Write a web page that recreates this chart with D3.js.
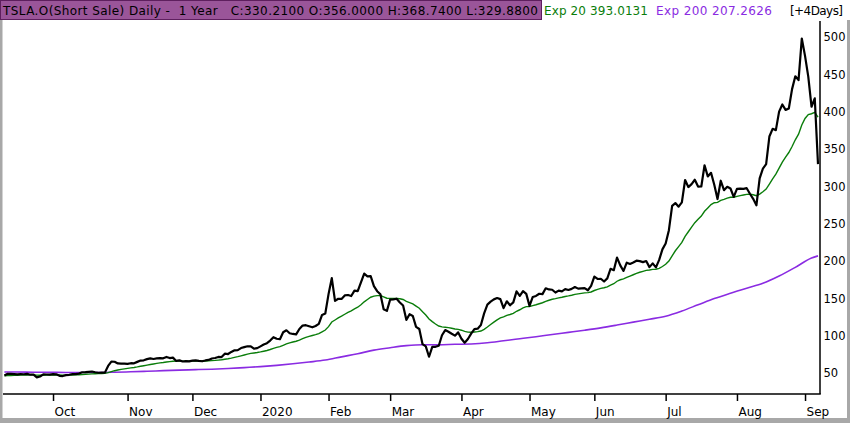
<!DOCTYPE html>
<html>
<head>
<meta charset="utf-8">
<script src="https://cdn.jsdelivr.net/npm/d3@7"></script>
<style>
  body { margin: 0; background: #fff; }
  svg text { font-family: "DejaVu Sans", Verdana, sans-serif; white-space: pre; }
</style>
</head>
<body>
<svg id="chart" width="850" height="423"></svg>
<script>
// daily closes, 10 Sep 2019 .. 8 Sep 2020 (split adjusted)
var closes = [
  47.1, 49.4, 49.2, 49.0, 48.6, 49.0, 48.7, 49.3, 48.1, 48.2, 44.6, 45.7, 48.5, 48.4, 48.2,
  48.9, 48.6, 46.6, 46.3, 47.5, 48.0, 48.9, 48.9, 49.6, 51.4, 51.6, 52.0, 52.4, 51.4, 50.7, 51.1, 50.9, 59.9, 65.6, 65.5, 63.2, 63.0, 63.0,
  62.7, 63.5, 63.4, 65.3, 67.1, 67.4, 69.0, 70.0, 69.2, 69.9, 70.4, 70.0, 71.9, 70.4, 71.0, 66.6, 67.3, 65.8, 66.3, 66.0,
  67.0, 67.2, 66.6, 66.1, 67.2, 67.9, 69.8, 70.5, 71.9, 71.7, 76.3, 75.8, 78.6, 80.8, 81.1, 83.8, 85.1, 86.2, 86.1, 82.9, 83.7,
  86.1, 88.6, 90.3, 93.8, 98.4, 96.3, 95.6, 105.0, 107.6, 103.7, 102.7, 102.1, 109.4, 113.9, 114.4, 113.0, 111.6, 113.4, 116.2, 128.2, 130.1,
  156.0, 177.4, 146.9, 149.8, 149.6, 154.3, 154.9, 153.5, 160.8, 160.0, 171.7, 183.5, 179.9, 180.2, 166.8, 160.0, 155.8, 135.8, 133.6,
  148.7, 149.1, 149.9, 144.9, 140.7, 121.6, 129.1, 126.8, 112.1, 109.3, 89.0, 86.0, 72.2, 85.5, 85.5, 86.9, 101.0, 107.9, 105.6, 102.9, 100.4, 104.8,
  96.3, 90.9, 96.0, 103.2, 109.1, 109.8, 114.6, 130.2, 142.0, 146.0, 149.0, 150.8, 149.3, 137.3, 146.4, 141.1, 145.0, 159.8, 153.8, 160.1, 156.4,
  140.3, 152.2, 153.6, 156.5, 156.0, 163.9, 162.3, 161.9, 158.2, 160.7, 159.8, 162.7, 161.6, 163.1, 165.5, 163.4, 163.8, 164.0, 161.2, 167.0,
  179.6, 176.3, 176.6, 172.9, 177.1, 190.0, 188.1, 205.0, 194.6, 187.1, 198.2, 196.4, 198.4, 200.8, 200.2, 198.9, 200.4, 192.2, 197.2, 191.9, 201.9, 216.0,
  223.9, 241.7, 274.3, 278.0, 273.2, 278.9, 308.9, 299.4, 303.4, 309.2, 300.1, 300.2, 328.6, 313.7, 318.5, 302.6, 283.4, 307.9, 295.3, 299.8, 297.5, 286.2,
  297.0, 297.4, 297.0, 297.9, 290.5, 283.7, 274.9, 311.0, 324.2, 330.1, 367.1, 377.4, 375.7, 400.4, 410.0, 402.8, 404.7, 430.6, 447.8, 442.7, 498.3,
  475.1, 447.4, 407.0, 418.3, 330.2
];

// Exp 20, one value per day
var ema20 = [
  46.56, 46.83, 47.06, 47.24, 47.37, 47.53, 47.64, 47.80, 47.83, 47.86, 47.55, 47.38, 47.48, 47.57, 47.63,
  47.75, 47.83, 47.71, 47.58, 47.57, 47.61, 47.74, 47.85, 48.01, 48.33, 48.64, 48.96, 49.29, 49.49, 49.61, 49.75, 49.86, 50.82, 52.23, 53.49, 54.41, 55.23, 55.97,
  56.61, 57.27, 57.85, 58.56, 59.37, 60.14, 60.98, 61.84, 62.54, 63.24, 63.92, 64.50, 65.20, 65.70, 66.20, 66.24, 66.34, 66.29, 66.29, 66.26,
  66.33, 66.41, 66.43, 66.40, 66.48, 66.61, 66.91, 67.25, 67.70, 68.08, 68.86, 69.52, 70.39, 71.38, 72.30, 73.40, 74.51, 75.62, 76.62, 77.22, 77.84,
  78.63, 79.58, 80.60, 81.86, 83.43, 84.66, 85.70, 87.54, 89.45, 90.81, 91.94, 92.91, 94.48, 96.33, 98.05, 99.47, 100.63, 101.84, 103.21, 105.59, 107.92,
  112.5, 118.7, 121.4, 124.1, 126.5, 129.1, 131.6, 133.7, 136.3, 138.5, 141.7, 145.7, 148.9, 151.9, 153.3, 154.0, 154.2, 152.4, 150.6,
  150.4, 150.3, 150.3, 149.8, 148.9, 146.3, 144.7, 143.0, 140.0, 137.1, 132.5, 128.1, 122.8, 119.2, 116.0, 113.3, 112.1, 111.7, 111.1, 110.3, 109.4, 108.9,
  107.7, 106.1, 105.2, 105.0, 105.4, 105.8, 106.6, 108.9, 112.0, 115.3, 118.5, 121.6, 124.2, 125.5, 127.5, 128.8, 130.3, 133.1, 135.1, 137.5, 139.3,
  139.4, 140.6, 141.8, 143.2, 144.5, 146.3, 147.8, 149.2, 150.0, 151.0, 151.9, 152.9, 153.7, 154.6, 155.7, 156.4, 157.1, 157.7, 158.1, 158.9,
  160.9, 162.4, 163.7, 164.6, 165.8, 168.1, 170.0, 173.3, 175.3, 176.5, 178.5, 180.2, 182.0, 183.8, 185.3, 186.6, 187.9, 188.3, 189.2, 189.4, 190.6, 193.0,
  196.0, 200.3, 207.4, 214.1, 219.7, 225.3, 233.3, 239.6, 245.7, 251.7, 256.3, 260.5, 267.0, 271.4, 275.9, 278.4, 278.9, 281.7, 283.0, 284.6, 285.8, 285.8,
  286.9, 287.9, 288.8, 289.6, 289.7, 289.1, 287.8, 290.0, 293.2, 296.8, 303.5, 310.5, 316.7, 324.7, 332.8, 339.5, 345.7, 353.8, 362.7, 370.3, 382.5,
  391.3, 396.6, 397.6, 399.6, 393.0
];

// Exp 200, read every 5th day
var ema200Day = [0, 4, 9, 14, 19, 24, 29, 34, 39, 44, 49, 54, 59, 64, 69, 74, 79, 84, 89, 94,
  99, 104, 109, 114, 119, 124, 129, 134, 139, 144, 149, 154, 159, 164, 169, 174, 179, 184, 189, 194,
  199, 204, 209, 214, 219, 224, 229, 234, 239, 244, 249, 251];
var ema200 = [51.75, 51.65, 51.50, 51.28, 51.10, 51.02, 51.05, 51.42, 51.99, 52.69, 53.53, 54.31, 54.90, 55.52, 56.38, 57.62, 58.96, 60.64, 62.70, 65.04,
  67.72, 72.03, 76.16, 81.05, 84.26, 87.04, 88.32, 88.07, 88.83, 89.29, 90.84, 93.55, 96.27, 99.02, 102.0, 104.86, 107.74, 110.88, 114.58, 118.50,
  122.40, 126.49, 133.45, 141.78, 150.12, 157.28, 164.0, 170.48, 180.22, 191.88, 204.4, 207.26];

// first trading day of each month (index into closes)
var monthStart = [15, 38, 58, 79, 100, 119, 141, 162, 182, 204, 226, 247];
var monthLabels = ["Oct", "Nov", "Dec", "2020", "Feb", "Mar", "Apr", "May", "Jun", "Jul", "Aug", "Sep"];
var priceTicks = [50, 100, 150, 200, 250, 300, 350, 400, 450, 500];

var titleText = "TSLA.O(Short Sale) Daily -  1 Year   C:330.2100 O:356.0000 H:368.7400 L:329.8800";
var exp20Text = "Exp 20 393.0131";
var exp200Text = "Exp 200 207.2626";
var extraText = "[+4Days]";

var svg = d3.select("#chart");

var plotLeft = 3, plotRight = 820, plotTop = 21, plotBottom = 394;

var x = d3.scaleLinear()
	.domain([0, closes.length - 1])
	.range([4.4, 818]);

var y = d3.scaleLinear()
	.domain([50, 500])
	.range([373.3, 37.3]);

// frame
svg.append("rect")
	.attr("x", 0).attr("y", 0).attr("width", 850).attr("height", 423)
	.attr("fill", "#fff");
svg.append("rect")
	.attr("x", 0).attr("y", 20).attr("width", 2.5).attr("height", 403)
	.attr("fill", "#a8a8a8");
svg.append("rect")
	.attr("x", 0).attr("y", 418).attr("width", 850).attr("height", 5)
	.attr("fill", "#a8a8a8");
svg.append("rect")
	.attr("x", 847).attr("y", 20).attr("width", 3).attr("height", 403)
	.attr("fill", "#a8a8a8");

// header
svg.append("rect")
	.attr("x", 0.5).attr("y", 0.5).attr("width", 541).attr("height", 19)
	.attr("fill", "#9a5599")
	.attr("stroke", "#5e1f5e");

var head = svg.append("g").attr("font-size", 12);
head.append("text")
	.attr("x", 3).attr("y", 15)
	.attr("textLength", 535)
	.attr("fill", "#000")
	.text(titleText);
head.append("text")
	.attr("x", 544).attr("y", 15)
	.attr("textLength", 104)
	.attr("fill", "#0a7d0a")
	.text(exp20Text);
head.append("text")
	.attr("x", 656).attr("y", 15)
	.attr("textLength", 116)
	.attr("fill", "#8a2be2")
	.text(exp200Text);
head.append("text")
	.attr("x", 790).attr("y", 15)
	.attr("textLength", 53)
	.attr("fill", "#000")
	.text(extraText);

// lines
svg.append("clipPath").attr("id", "plotclip")
	.append("rect")
		.attr("x", plotLeft).attr("y", plotTop)
		.attr("width", plotRight - plotLeft).attr("height", plotBottom - plotTop);

var lines = svg.append("g").attr("clip-path", "url(#plotclip)");

var lineDay = d3.line()
	.x(function(d, i) { return x(i); })
	.y(function(d) { return y(d); });

lines.append("path")
	.datum(ema200)
	.attr("fill", "none")
	.attr("stroke", "#8a2be2")
	.attr("stroke-width", 1.6)
	.attr("d", d3.line()
		.curve(d3.curveMonotoneX)
		.x(function(d, i) { return x(ema200Day[i]); })
		.y(function(d) { return y(d); }));

lines.append("path")
	.datum(ema20)
	.attr("fill", "none")
	.attr("stroke", "#0a7d0a")
	.attr("stroke-width", 1.4)
	.attr("d", lineDay);

lines.append("path")
	.datum(closes)
	.attr("fill", "none")
	.attr("stroke", "#000")
	.attr("stroke-width", 2.2)
	.attr("stroke-linejoin", "round")
	.attr("d", lineDay);

// axes
var xAxis = svg.append("g")
	.attr("transform", "translate(0," + plotBottom + ")")
	.call(d3.axisBottom(x)
		.tickValues(monthStart)
		.tickFormat(function(d, i) { return monthLabels[i]; })
		.tickSize(7)
		.tickSizeOuter(0));
xAxis.select(".domain").remove();
xAxis.selectAll(".tick line").attr("stroke", "#000").attr("stroke-width", 1.5);
xAxis.selectAll(".tick text")
	.attr("font-family", "DejaVu Sans, Verdana, sans-serif")
	.attr("font-size", 12)
	.attr("fill", "#000")
	.attr("text-anchor", "start")
	.attr("x", 1)
	.attr("y", 13);

var yAxis = svg.append("g")
	.attr("transform", "translate(" + plotRight + ",0)")
	.call(d3.axisRight(y)
		.tickValues(priceTicks)
		.tickSize(0)
		.tickPadding(3.5));
yAxis.select(".domain").remove();
yAxis.selectAll(".tick text")
	.attr("font-family", "DejaVu Sans, Verdana, sans-serif")
	.attr("font-size", 11.5)
	.attr("fill", "#000");

svg.append("line")
	.attr("x1", plotLeft).attr("x2", plotRight + 0.75)
	.attr("y1", plotBottom).attr("y2", plotBottom)
	.attr("stroke", "#000").attr("stroke-width", 1.5);
svg.append("line")
	.attr("x1", plotRight).attr("x2", plotRight)
	.attr("y1", plotTop).attr("y2", plotBottom)
	.attr("stroke", "#000").attr("stroke-width", 1.5);
</script>
</body>
</html>
